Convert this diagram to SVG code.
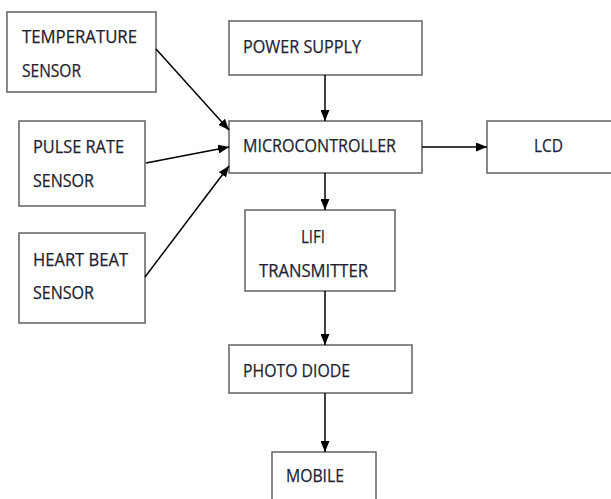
<svg xmlns="http://www.w3.org/2000/svg" width="611" height="499" viewBox="0 0 611 499">
<style>
.box{fill:#fff;stroke:#6b6b6b;stroke-width:1.6}
.t{font-family:"Open Sans","Liberation Sans",sans-serif;font-size:18px;fill:#1e2230;stroke:#1e2230;stroke-width:0.25}
.c{stroke:#000;stroke-width:1.5;fill:none;marker-end:url(#ah)}
</style>
<defs>
<marker id="ah" markerUnits="userSpaceOnUse" markerWidth="11" markerHeight="9" refX="11" refY="4.5" orient="auto">
<path d="M0,0 L11,4.5 L0,9 z" fill="#000"/>
</marker>
</defs>
<rect width="611" height="499" fill="#fff"/>
<g id="temperature">
<rect class="box" x="7" y="12" width="149" height="80"/>
<text class="t" x="22" y="43" textLength="115" lengthAdjust="spacingAndGlyphs">TEMPERATURE</text>
<text class="t" x="22" y="77" textLength="59" lengthAdjust="spacingAndGlyphs">SENSOR</text>
</g>
<g id="pulse">
<rect class="box" x="19" y="121" width="126" height="85"/>
<text class="t" x="33" y="153" textLength="91" lengthAdjust="spacingAndGlyphs">PULSE RATE</text>
<text class="t" x="33" y="187" textLength="61" lengthAdjust="spacingAndGlyphs">SENSOR</text>
</g>
<g id="heart">
<rect class="box" x="19" y="233" width="126" height="90"/>
<text class="t" x="33" y="266" textLength="95" lengthAdjust="spacingAndGlyphs">HEART BEAT</text>
<text class="t" x="33" y="299" textLength="61" lengthAdjust="spacingAndGlyphs">SENSOR</text>
</g>
<g id="power">
<rect class="box" x="229" y="21" width="193" height="54"/>
<text class="t" x="243" y="53" textLength="118" lengthAdjust="spacingAndGlyphs">POWER SUPPLY</text>
</g>
<g id="micro">
<rect class="box" x="229" y="121" width="193" height="52"/>
<text class="t" x="243" y="152" textLength="153" lengthAdjust="spacingAndGlyphs">MICROCONTROLLER</text>
</g>
<g id="lcd">
<rect class="box" x="487" y="121" width="140" height="52"/>
<text class="t" x="534" y="152" textLength="29" lengthAdjust="spacingAndGlyphs">LCD</text>
</g>
<g id="lifi">
<rect class="box" x="245" y="210" width="150" height="81"/>
<text class="t" x="301" y="243" textLength="24" lengthAdjust="spacingAndGlyphs">LIFI</text>
<text class="t" x="259" y="277" textLength="109" lengthAdjust="spacingAndGlyphs">TRANSMITTER</text>
</g>
<g id="photo">
<rect class="box" x="229" y="345" width="183" height="48"/>
<text class="t" x="243" y="377" textLength="107" lengthAdjust="spacingAndGlyphs">PHOTO DIODE</text>
</g>
<g id="mobile">
<rect class="box" x="272" y="452" width="104" height="60"/>
<text class="t" x="286" y="482" textLength="58" lengthAdjust="spacingAndGlyphs">MOBILE</text>
</g>
<g id="connectors">
<line class="c" x1="156" y1="49" x2="229" y2="130"/>
<line class="c" x1="146" y1="163" x2="229" y2="147"/>
<line class="c" x1="145" y1="277" x2="229" y2="166"/>
<line class="c" x1="325" y1="75" x2="325" y2="121"/>
<line class="c" x1="422" y1="147" x2="487" y2="147"/>
<line class="c" x1="325" y1="173" x2="325" y2="210"/>
<line class="c" x1="325" y1="291" x2="325" y2="345"/>
<line class="c" x1="325" y1="393" x2="325" y2="452"/>
</g>
</svg>
